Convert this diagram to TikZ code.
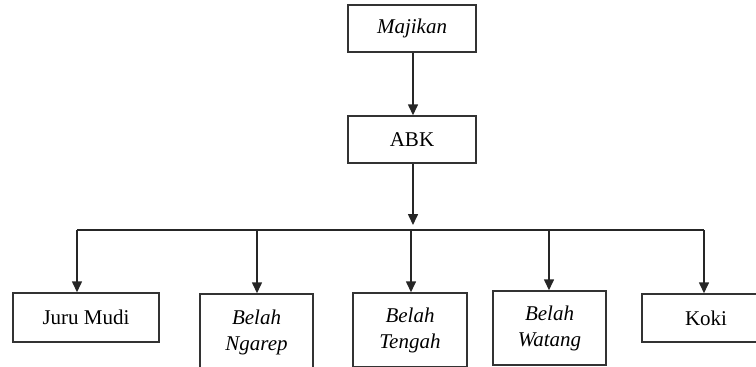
\documentclass[tikz,border=0pt]{standalone}
\usepackage{fontspec}
\setmainfont{Liberation Serif}
\usetikzlibrary{arrows.meta}
\begin{document}
\begin{tikzpicture}[x=1pt,y=-1pt,
  box/.style={draw=black!80,line width=1.5pt,rectangle,inner sep=0pt,align=center,
    font=\fontsize{21}{26}\selectfont},
  conn/.style={draw=black!85,line width=1.6pt},
  arr/.style={conn,-{Triangle[width=10pt,length=11pt]}}]
\useasboundingbox (0,0) rectangle (756,367);
\clip (0,0) rectangle (756,367);
\node[box,minimum width=128pt,minimum height=47pt] (maj) at (412,28.5) {\itshape Majikan};
\node[box,minimum width=128pt,minimum height=47pt] (abk) at (412,139.5) {ABK};
\node[box,minimum width=146pt,minimum height=49pt] (juru) at (86,317.5) {Juru Mudi};
\node[box,minimum width=113pt,minimum height=76pt] (ngarep) at (256.5,332) {\itshape Belah\\\itshape Ngarep};
\node[box,minimum width=114pt,minimum height=74pt] (tengah) at (410,330) {\itshape Belah\\\itshape Tengah};
\node[box,minimum width=113pt,minimum height=74pt] (watang) at (549.5,328) {\itshape Belah\\\itshape Watang};
\node[box,minimum width=128pt,minimum height=48pt] (koki) at (706,318) {Koki};
\coordinate (hl) at (77,230);
\coordinate (hr) at (704,230);
\coordinate (hm) at (413,230);
\draw[arr] (maj.south -| 413,0) -- (abk.north -| 413,0);
\draw[arr] (abk.south -| 413,0) -- (413,225);
\draw[conn] (hl) -- (hr);
\draw[arr] (hl) -- (juru.north -| hl);
\draw[arr] (257,230) -- (ngarep.north -| 257,0);
\draw[arr] (411,230) -- (tengah.north -| 411,0);
\draw[arr] (549,230) -- (watang.north -| 549,0);
\draw[arr] (hr) -- (koki.north -| hr);
\end{tikzpicture}
\end{document}
